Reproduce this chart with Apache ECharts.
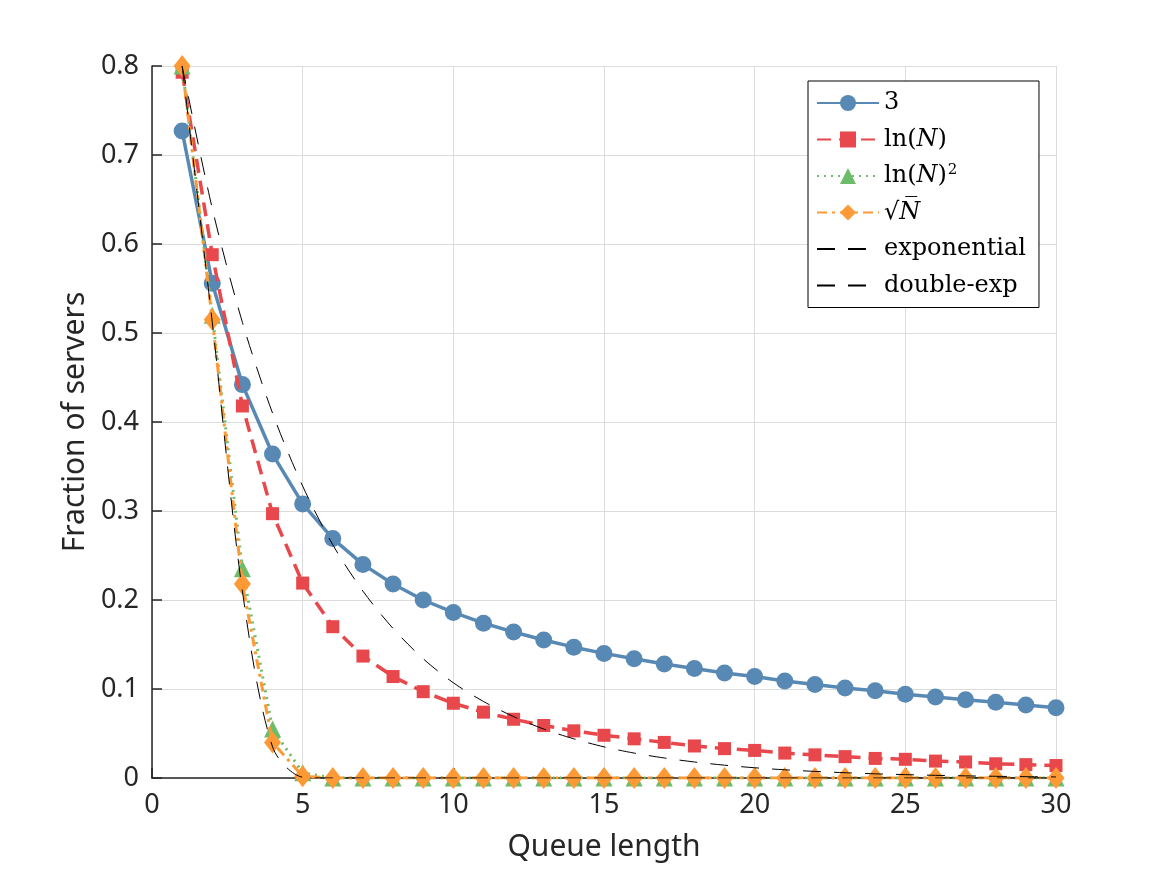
<!DOCTYPE html>
<html>
<head>
<meta charset="utf-8">
<script src="https://cdn.jsdelivr.net/npm/echarts@6/dist/echarts.min.js"></script>
<style>html,body{margin:0;padding:0;background:#fff}#c{width:1167px;height:875px}</style>
</head>
<body>
<div id="c"></div>
<script>
const queueLength = [1,2,3,4,5,6,7,8,9,10,11,12,13,14,15,16,17,18,19,20,21,22,23,24,25,26,27,28,29,30];
const seriesNames = ['3', 'ln(N)', 'ln(N)^2', 'sqrt(N)', 'exponential', 'double-exp'];
const valsThree = [0.727,0.556,0.442,0.364,0.308,0.269,0.240,0.218,0.200,0.186,0.174,0.164,0.155,0.147,0.140,0.134,0.128,0.123,0.118,0.114,0.109,0.105,0.101,0.098,0.094,0.091,0.088,0.085,0.082,0.079];
const valsLn = [0.793,0.588,0.418,0.297,0.219,0.170,0.137,0.114,0.097,0.084,0.074,0.066,0.059,0.053,0.048,0.044,0.040,0.036,0.033,0.031,0.028,0.026,0.024,0.022,0.021,0.019,0.018,0.016,0.015,0.014];
const valsLn2 = [0.800,0.520,0.235,0.055,0.006,0,0,0,0,0,0,0,0,0,0,0,0,0,0,0,0,0,0,0,0,0,0,0,0,0];
const valsSqrt = [0.800,0.515,0.218,0.040,0.002,0,0,0,0,0,0,0,0,0,0,0,0,0,0,0,0,0,0,0,0,0,0,0,0,0];
const valsExp = [0.800,0.640,0.512,0.410,0.328,0.262,0.210,0.168,0.134,0.107,0.086,0.069,0.055,0.044,0.035,0.028,0.0225,0.018,0.0144,0.0115,0.0092,0.0074,0.0059,0.0047,0.0038,0.0030,0.0024,0.0019,0.0015,0.0012];
const valsDoubleExp = [0.800,0.512,0.210,0.035,0.001,0,0,0,0,0,0,0,0,0,0,0,0,0,0,0,0,0,0,0,0,0,0,0,0,0];
const xTicks = [0,5,10,15,20,25,30];
const yTicks = [0,0.1,0.2,0.3,0.4,0.5,0.6,0.7,0.8];

function pairs(v){ return queueLength.map((x,i)=>[x, v[i]]); }

const chart = echarts.init(document.getElementById('c'), null, {renderer:'canvas'});
const tickFont = 'Noto Sans';
const serif = 'DejaVu Serif';
const option = {
  animation: false,
  backgroundColor: '#fff',
  grid: {left:152, right:111, top:66, bottom:97, containLabel:false},
  xAxis: {
    type:'value', min:xTicks[0], max:xTicks[xTicks.length-1], interval:5,
    name:'Queue length', nameLocation:'middle', nameGap:54,
    nameTextStyle:{fontFamily:tickFont, fontSize:30, color:'#262626'},
    axisLine:{show:true, lineStyle:{color:'#262626', width:1.5}},
    axisTick:{show:true, inside:true, length:10, lineStyle:{color:'#262626', width:1.5}},
    axisLabel:{fontFamily:tickFont, fontSize:27, color:'#262626', margin:14},
    splitLine:{show:true, lineStyle:{color:'#dcdcdc', width:1}}
  },
  yAxis: {
    type:'value', min:yTicks[0], max:yTicks[yTicks.length-1], interval:0.1,
    name:'Fraction of servers', nameLocation:'middle', nameGap:62, nameRotate:90,
    nameTextStyle:{fontFamily:tickFont, fontSize:30, color:'#262626'},
    axisLine:{show:true, lineStyle:{color:'#262626', width:1.5}},
    axisTick:{show:true, inside:true, length:10, lineStyle:{color:'#262626', width:1.5}},
    axisLabel:{fontFamily:tickFont, fontSize:27, color:'#262626', margin:13},
    splitLine:{show:true, lineStyle:{color:'#dcdcdc', width:1}}
  },
  legend: {
    orient:'vertical', left:808, top:81,
    backgroundColor:'#fff', borderColor:'#000', borderWidth:1,
    padding:[9,13,9,8], itemGap:10.5, itemWidth:62, itemHeight:20,
    data: [
      {name:seriesNames[0]}, {name:seriesNames[1]}, {name:seriesNames[2]}, {name:seriesNames[3]},
      {name:seriesNames[4], itemStyle:{opacity:0}}, {name:seriesNames[5], itemStyle:{opacity:0}}
    ],
    formatter: function(n){
      if(n==='3') return '{t|3}';
      if(n==='ln(N)') return '{t|ln(}{i|N}{t|)}';
      if(n==='ln(N)^2') return '{t|ln(}{i|N}{t|)}{s|2}';
      if(n==='sqrt(N)') return '{t|√}{i|N\u0305}';
      return '{t|'+n+'}';
    },
    textStyle:{
      fontFamily:serif, fontSize:24, color:'#000', lineHeight:26,
      rich:{
        t:{fontFamily:serif, fontSize:24, color:'#000', lineHeight:26},
        i:{fontFamily:serif, fontSize:24, fontStyle:'italic', color:'#000', lineHeight:26},
        s:{fontFamily:serif, fontSize:15, color:'#000', lineHeight:26, verticalAlign:'top', padding:[0,0,8,1]}
      }
    }
  },
  series: [
    {name:seriesNames[0], type:'line', data:pairs(valsThree), symbol:'circle', symbolSize:17,
     itemStyle:{color:'#5889b4'}, lineStyle:{color:'#5889b4', width:3.5}, z:2},
    {name:seriesNames[1], type:'line', data:pairs(valsLn), symbol:'rect', symbolSize:13,
     itemStyle:{color:'#e8474b'}, lineStyle:{color:'#e8474b', width:3.5, type:[14,8]}, z:3},
    {name:seriesNames[2], type:'line', data:pairs(valsLn2), symbol:'triangle', symbolSize:17,
     itemStyle:{color:'#6dbc6a'}, lineStyle:{color:'#6dbc6a', width:3, type:[2,5]}, z:4},
    {name:seriesNames[3], type:'line', data:pairs(valsSqrt), symbol:'diamond', symbolSize:[17,22],
     itemStyle:{color:'#fd9a35'}, lineStyle:{color:'#fd9a35', width:3, type:[10,5,3,5]}, z:5},
    {name:seriesNames[4], type:'line', data:pairs(valsExp), symbol:'none', smooth:0.3,
     itemStyle:{color:'#000'}, lineStyle:{color:'#000', width:1, type:[18,13]}, z:6},
    {name:seriesNames[5], type:'line', data:pairs(valsDoubleExp), symbol:'none', smooth:0.3,
     itemStyle:{color:'#000'}, lineStyle:{color:'#000', width:1, type:[18,13]}, z:7}
  ]
};
chart.setOption(option);
</script>
</body>
</html>
